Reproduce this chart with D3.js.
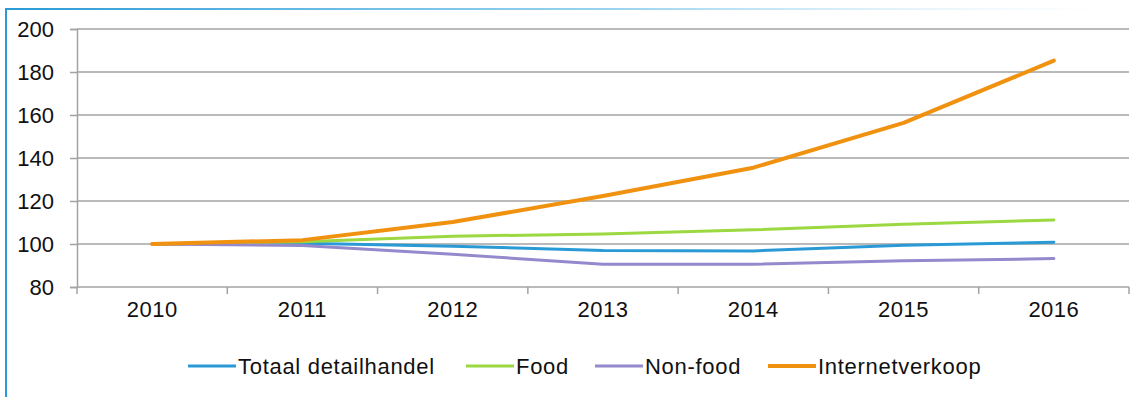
<!DOCTYPE html>
<html>
<head>
<meta charset="utf-8">
<script src="https://cdn.jsdelivr.net/npm/d3@7"></script>
<style>
  body { margin: 0; background: #fff; }
  text { font-family: "Liberation Sans", Arial, sans-serif; fill: #111; }
</style>
</head>
<body>
<div id="chart"></div>
<script>
// data
var years = ["2010", "2011", "2012", "2013", "2014", "2015", "2016"];
var totaal = [100, 100.3, 99, 97, 96.8, 99.4, 100.8];
var food = [100, 101, 103.6, 104.7, 106.6, 109.2, 111.2];
var nonfood = [100, 99.3, 95.2, 90.6, 90.6, 92.2, 93.2];
var internet = [100, 101.8, 110.2, 122.3, 135.5, 156.3, 185.3];
var yTicks = [80, 100, 120, 140, 160, 180, 200];

var seriesNames = ["Totaal detailhandel", "Food", "Non-food", "Internetverkoop"];
var seriesColors = ["#2a9ad6", "#9cd83f", "#9389cc", "#f0920f"];
var seriesWidth = [3, 3, 3, 4];
var seriesData = [totaal, food, nonfood, internet];

var W = 1133, H = 397;
var margin = { left: 77, right: 4, top: 29, bottom: 110 };

var svg = d3.select("#chart").append("svg")
    .attr("width", W)
    .attr("height", H);

// frame (blue left edge + fading top edge)
var grad = svg.append("defs").append("linearGradient")
    .attr("id", "topfade")
    .attr("x1", "0%").attr("x2", "100%");
grad.append("stop").attr("offset", "0%").attr("stop-color", "#2a9ad6").attr("stop-opacity", 1);
grad.append("stop").attr("offset", "55%").attr("stop-color", "#6cc0e8").attr("stop-opacity", 0.7);
grad.append("stop").attr("offset", "100%").attr("stop-color", "#bfe3f5").attr("stop-opacity", 0);

svg.append("rect")
    .attr("x", 5).attr("y", 8)
    .attr("width", 1100).attr("height", 2)
    .attr("fill", "url(#topfade)");
svg.append("rect")
    .attr("x", 5).attr("y", 8)
    .attr("width", 2).attr("height", H - 8)
    .attr("fill", "#2a9ad6");

// scales
var x = d3.scaleBand()
    .domain(years)
    .range([margin.left, W - margin.right])
    .padding(0);

var y = d3.scaleLinear()
    .domain([80, 200])
    .range([H - margin.bottom, margin.top]);

var cx = function(d) { return x(d) + x.bandwidth() / 2; };

// gridlines
svg.append("g")
  .selectAll("line")
  .data(yTicks)
  .enter().append("line")
    .attr("x1", margin.left)
    .attr("x2", W - margin.right)
    .attr("y1", function(d) { return y(d); })
    .attr("y2", function(d) { return y(d); })
    .attr("stroke", "#a3a3a3")
    .attr("stroke-width", 1.5);

// y axis
var yAxis = svg.append("g")
    .attr("transform", "translate(" + margin.left + ",0)")
    .call(d3.axisLeft(y).tickValues(yTicks).tickSize(7).tickPadding(16));
yAxis.select(".domain").attr("stroke", "#a3a3a3").attr("stroke-width", 1.5);
yAxis.selectAll(".tick line").attr("stroke", "#a3a3a3").attr("stroke-width", 1.5);
yAxis.selectAll("text")
    .style("font-size", "22px")
    .attr("dy", "0.36em");

// x axis: labels centred, tick marks at category boundaries
var xAxis = svg.append("g")
    .attr("transform", "translate(0," + y(80) + ")")
    .call(d3.axisBottom(x).tickSize(0).tickPadding(14));
xAxis.select(".domain").remove();
xAxis.selectAll("text")
    .style("font-size", "22px")
    .style("letter-spacing", "0.5px");

var bounds = years.map(function(d) { return x(d); }).concat([x.range()[1]]);
svg.append("g")
  .selectAll("line")
  .data(bounds)
  .enter().append("line")
    .attr("x1", function(d) { return d; })
    .attr("x2", function(d) { return d; })
    .attr("y1", y(80))
    .attr("y2", y(80) + 7)
    .attr("stroke", "#a3a3a3")
    .attr("stroke-width", 1.5);

// lines
var line = d3.line()
    .x(function(d, i) { return cx(years[i]); })
    .y(function(d) { return y(d); });

svg.append("g")
  .selectAll("path")
  .data(seriesData)
  .enter().append("path")
    .attr("d", line)
    .attr("fill", "none")
    .attr("stroke", function(d, i) { return seriesColors[i]; })
    .attr("stroke-width", function(d, i) { return seriesWidth[i]; })
    .attr("stroke-linejoin", "round")
    .attr("stroke-linecap", "round");

// legend
var legendX = [188, 466, 595, 768];
var legend = svg.append("g")
  .selectAll("g")
  .data(seriesNames)
  .enter().append("g")
    .attr("transform", function(d, i) { return "translate(" + legendX[i] + ",366)"; });

legend.append("line")
    .attr("x1", 0).attr("x2", 48)
    .attr("y1", 0).attr("y2", 0)
    .attr("stroke", function(d, i) { return seriesColors[i]; })
    .attr("stroke-width", function(d, i) { return seriesWidth[i]; });

legend.append("text")
    .attr("x", 50)
    .attr("y", 0)
    .attr("dy", "0.35em")
    .style("font-size", "22px")
    .style("letter-spacing", "0.7px")
    .text(function(d) { return d; });
</script>
</body>
</html>
